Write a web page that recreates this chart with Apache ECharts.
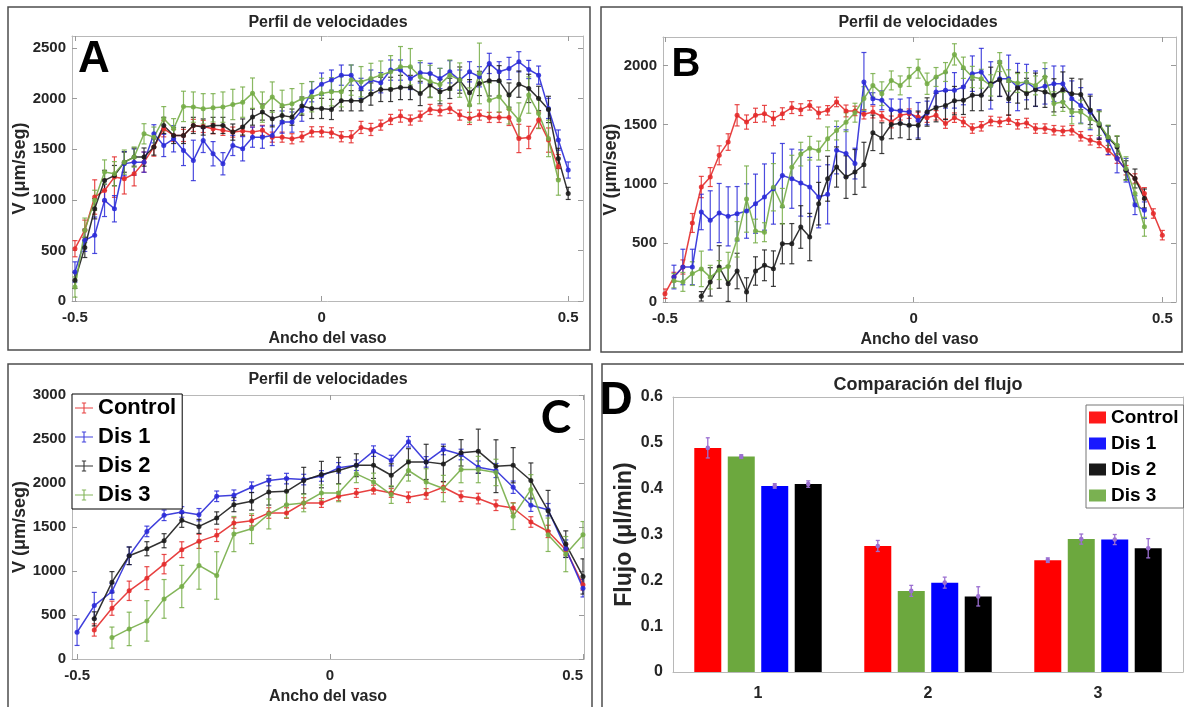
<!DOCTYPE html>
<html>
<head>
<meta charset="utf-8">
<title>Perfil de velocidades</title>
<script src="https://cdn.jsdelivr.net/npm/echarts@6/dist/echarts.min.js"></script>
<style>
  html, body { margin: 0; padding: 0; background: #fff; }
  #main { width: 1184px; height: 707px; }
</style>
</head>
<body>
<div id="main"></div>
<script>
// sample positions across the vessel (normalised width)
const xA = [-0.5, -0.48, -0.46, -0.44, -0.42, -0.4, -0.38, -0.36, -0.34, -0.32,
  -0.3, -0.28, -0.26, -0.24, -0.22, -0.2, -0.18, -0.16, -0.14, -0.12,
  -0.1, -0.08, -0.06, -0.04, -0.02, 0, 0.02, 0.04, 0.06, 0.08,
  0.1, 0.12, 0.14, 0.16, 0.18, 0.2, 0.22, 0.24, 0.26, 0.28,
  0.3, 0.32, 0.34, 0.36, 0.38, 0.4, 0.42, 0.44, 0.46, 0.48, 0.5]
const xB = [-0.5, -0.482, -0.464, -0.445, -0.427, -0.409, -0.391, -0.373, -0.355, -0.336,
  -0.318, -0.3, -0.282, -0.264, -0.245, -0.227, -0.209, -0.191, -0.173, -0.155,
  -0.136, -0.118, -0.1, -0.082, -0.064, -0.045, -0.027, -0.009, 0.009, 0.027,
  0.045, 0.064, 0.082, 0.1, 0.118, 0.136, 0.155, 0.173, 0.191, 0.209,
  0.227, 0.245, 0.264, 0.282, 0.3, 0.318, 0.336, 0.355, 0.373, 0.391,
  0.409, 0.427, 0.445, 0.464, 0.482, 0.5]
const xC = [-0.5, -0.466, -0.431, -0.397, -0.362, -0.328, -0.293, -0.259, -0.224, -0.19,
  -0.155, -0.121, -0.086, -0.052, -0.017, 0.017, 0.052, 0.086, 0.121, 0.155,
  0.19, 0.224, 0.259, 0.293, 0.328, 0.362, 0.397, 0.431, 0.466, 0.5]

// panel A (um/seg)
const aControl = [517, 700, 1028, 1093, 1225, 1208, 1258, 1373, 1522, 1703,
  1637, 1637, 1736, 1726, 1703, 1687, 1670, 1680, 1670, 1687,
  1620, 1620, 1604, 1624, 1673, 1673, 1663, 1624, 1624, 1716,
  1696, 1739, 1795, 1828, 1789, 1828, 1894, 1881, 1904, 1838,
  1805, 1838, 1815, 1815, 1815, 1607, 1617, 1789, 1591, 1327, null]
const aControlErr = [80, 100, 170, 110, 200, 150, 120, 100, 90, 80,
  60, 60, 60, 60, 50, 50, 50, 50, 50, 50,
  50, 50, 50, 50, 50, 50, 50, 50, 60, 60,
  60, 50, 50, 60, 50, 50, 50, 50, 50, 50,
  60, 50, 50, 50, 80, 140, 110, 80, 120, 120, null]
const aDis1 = [287, 600, 650, 995, 912, 1357, 1373, 1373, 1653, 1538,
  1604, 1489, 1390, 1588, 1456, 1357, 1538, 1505, 1620, 1620,
  1637, 1769, 1769, 1887, 2069, 2144, 2184, 2233, 2233, 2102,
  2184, 2158, 2283, 2283, 2200, 2256, 2250, 2200, 2266, 2184,
  2266, 2217, 2349, 2266, 2299, 2365, 2289, 2233, 1904, 1591, 1295]
const aDis1Err = [100, 110, 180, 160, 130, 120, 130, 100, 90, 110,
  130, 150, 200, 120, 120, 110, 100, 120, 100, 110,
  100, 110, 100, 110, 100, 110, 100, 100, 100, 100,
  100, 100, 100, 100, 110, 100, 100, 100, 110, 100,
  100, 100, 100, 100, 110, 100, 90, 90, 100, 100, 80]
const aDis2 = [204, 530, 912, 1192, 1240, 1373, 1423, 1423, 1522, 1736,
  1637, 1637, 1736, 1720, 1736, 1736, 1670, 1720, 1818, 1868,
  1802, 1835, 1818, 1927, 1904, 1904, 1894, 1980, 1980, 1980,
  2046, 2092, 2092, 2111, 2111, 2052, 2135, 2069, 2102, 2184,
  2059, 2151, 2177, 2177, 2036, 2144, 2102, 2003, 1894, 1410, 1064]
const aDis2Err = [80, 100, 100, 100, 100, 100, 90, 90, 80, 80,
  80, 80, 80, 80, 80, 80, 80, 80, 80, 80,
  80, 80, 80, 90, 100, 100, 100, 100, 100, 100,
  110, 120, 120, 120, 120, 120, 120, 120, 100, 130,
  130, 120, 150, 150, 120, 130, 140, 120, 130, 100, 60]
const aDis3 = [138, 700, 995, 1275, 1258, 1373, 1423, 1653, 1620, 1802,
  1703, 1924, 1917, 1900, 1910, 1917, 1943, 1966, 2055, 1917,
  2016, 1934, 1950, 2000, 2020, 2052, 2069, 2069, 2184, 2168,
  2200, 2233, 2266, 2316, 2316, 2217, 2170, 2140, 2233, 2184,
  1937, 2250, 1986, 2019, 1900, 1789, 2036, 1855, 1607, 1196, null]
const aDis3Err = [100, 120, 100, 120, 120, 120, 100, 100, 100, 120,
  100, 150, 150, 150, 140, 150, 150, 150, 150, 150,
  150, 150, 150, 150, 150, 150, 140, 150, 150, 150,
  150, 140, 160, 200, 180, 160, 160, 160, 150, 170,
  170, 300, 170, 150, 150, 170, 180, 150, 180, 150, null]

// panel B (um/seg)
const bControl = [70, 211, 296, 668, 972, 1056, 1240, 1352, 1578, 1521,
  1578, 1592, 1550, 1592, 1643, 1626, 1662, 1598, 1620, 1691,
  1615, 1615, 1587, 1606, 1570, 1522, 1578, 1592, 1564, 1558,
  1578, 1508, 1558, 1522, 1466, 1485, 1530, 1522, 1541, 1502,
  1513, 1466, 1466, 1452, 1446, 1452, 1401, 1367, 1345, 1283,
  1212, 1114, 1044, 917, 748, 565]
const bControlErr = [40, 40, 60, 80, 90, 80, 80, 70, 90, 60,
  60, 70, 60, 50, 50, 50, 40, 50, 40, 40,
  50, 40, 40, 50, 40, 50, 40, 40, 40, 40,
  40, 40, 40, 40, 40, 40, 40, 40, 40, 40,
  40, 40, 40, 40, 40, 40, 40, 40, 40, 40,
  40, 40, 40, 50, 40, 40]
const bDis1 = [null, 211, 296, 296, 761, 690, 752, 724, 746, 769,
  831, 887, 958, 1070, 1042, 1006, 972, 887, 910, 1283,
  1255, 1170, 1859, 1719, 1705, 1626, 1615, 1606, 1536, 1598,
  1775, 1789, 1789, 1817, 1930, 1944, 1831, 1887, 1887, 1817,
  1859, 1803, 1823, 1845, 1845, 1719, 1662, 1606, 1505, 1367,
  1212, 1114, 819, 776, null, null]
const bDis1Err = [null, 100, 150, 150, 150, 250, 250, 250, 230, 230,
  250, 280, 300, 270, 250, 280, 250, 260, 250, 200,
  200, 130, 250, 50, 80, 90, 100, 120, 150, 100,
  120, 150, 150, 150, 150, 200, 200, 150, 200, 200,
  150, 150, 150, 150, 150, 150, 150, 150, 120, 120,
  120, 100, 80, 70, null, null]
const bDis2 = [null, null, null, null, 48, 170, 296, 155, 262, 85,
  262, 310, 282, 493, 493, 634, 549, 831, 1042, 1141,
  1056, 1099, 1160, 1430, 1385, 1500, 1508, 1494, 1494, 1606,
  1643, 1662, 1702, 1705, 1747, 1747, 1845, 1879, 1719, 1811,
  1761, 1795, 1775, 1747, 1795, 1761, 1755, 1620, 1494, 1390,
  1311, 1114, 1044, 875, null, null]
const bDis2Err = [null, null, null, null, 40, 120, 180, 150, 150, 120,
  120, 130, 150, 170, 170, 180, 200, 180, 190, 170,
  180, 190, 190, 150, 130, 120, 120, 120, 120, 120,
  120, 120, 120, 120, 130, 130, 140, 140, 140, 130,
  130, 140, 130, 140, 150, 130, 130, 120, 120, 100,
  90, 80, 80, 80, null, null]
const bDis3 = [null, 180, 170, 240, 280, 210, 270, 300, 530, 870,
  600, 590, 970, 810, 1140, 1250, 1300, 1280, 1380, 1450,
  1520, 1600, 1720, 1831, 1761, 1873, 1831, 1902, 1972, 1845,
  1902, 1944, 2093, 1980, 1902, 1887, 1831, 2028, 1873, 1851,
  1859, 1831, 1902, 1677, 1691, 1606, 1606, 1550, 1508, 1395,
  1325, 1128, 917, 636, null, null]
const bDis3Err = [null, 60, 80, 100, 150, 100, 80, 120, 150, 280,
  100, 80, 200, 150, 100, 100, 100, 80, 100, 80,
  80, 80, 100, 100, 100, 80, 80, 80, 80, 90,
  80, 80, 90, 90, 90, 80, 90, 80, 90, 80,
  80, 80, 120, 100, 80, 100, 100, 80, 100, 100,
  80, 100, 80, 80, null, null]

// panel C (um/seg)
const cControl = [null, 330, 577, 775, 919, 1078, 1242, 1337, 1405, 1545,
  1572, 1659, 1659, 1773, 1773, 1849, 1887, 1925, 1887, 1838,
  1876, 1952, 1849, 1823, 1747, 1716, 1557, 1450, 1242, 843]
const cControlErr = [null, 70, 80, 110, 130, 110, 90, 80, 70, 60,
  60, 60, 60, 60, 50, 50, 50, 50, 50, 60,
  60, 60, 60, 60, 60, 60, 60, 70, 60, 60]
const cDis1 = [304, 607, 767, 1173, 1450, 1633, 1671, 1640, 1849, 1861,
  1952, 2028, 2050, 2039, 2080, 2172, 2202, 2362, 2255, 2468,
  2240, 2381, 2324, 2180, 2142, 1952, 1747, 1697, 1253, 805]
const cDis1Err = [150, 150, 90, 100, 60, 60, 60, 70, 60, 60,
  60, 60, 60, 60, 60, 60, 60, 60, 60, 60,
  60, 60, 60, 70, 80, 70, 70, 70, 100, 100]
const cDis2 = [null, 456, 873, 1173, 1253, 1344, 1576, 1507, 1602, 1754,
  1792, 1899, 1906, 2028, 2096, 2142, 2202, 2202, 2088, 2240,
  2240, 2217, 2343, 2362, 2191, 2202, 2028, 1686, 1306, 938]
const cDis2Err = [null, 80, 120, 100, 80, 80, 80, 80, 70, 80,
  100, 150, 150, 150, 150, 150, 130, 150, 130, 150,
  200, 200, 150, 250, 300, 200, 200, 230, 150, 200]
const cDis3 = [null, null, 243, 342, 433, 683, 824, 1063, 949, 1420,
  1481, 1648, 1754, 1773, 1887, 1887, 2104, 2012, 1868, 2142,
  2012, 1937, 2153, 2153, 2120, 1621, 1925, 1412, 1192, 1412]
const cDis3Err = [null, null, 120, 190, 230, 220, 240, 270, 270, 200,
  170, 170, 150, 100, 90, 100, 100, 100, 100, 120,
  150, 150, 150, 150, 150, 150, 170, 190, 200, 150]

// panel D, flujo (ul/min) per grupo
const dCategories = ['1', '2', '3']
const dControl = [0.489, 0.275, 0.244]
const dControlErr = [0.022, 0.012, 0.005]
const dDis3 = [0.47, 0.177, 0.29]
const dDis3Err = [0.004, 0.012, 0.011]
const dDis1 = [0.406, 0.195, 0.289]
const dDis1Err = [0.005, 0.012, 0.011]
const dDis2 = [0.41, 0.165, 0.27]
const dDis2Err = [0.007, 0.021, 0.021]

const xTicks = [-0.5, 0, 0.5]
const yTicksA = [0, 500, 1000, 1500, 2000, 2500]
const yTicksB = [0, 500, 1000, 1500, 2000]
const yTicksC = [0, 500, 1000, 1500, 2000, 2500, 3000]

const font = 'Arial, "Liberation Sans", Helvetica, sans-serif'
const RED = '#e42b2b'
const BLUE = '#2b2bd8'
const BLACK = '#1c1c1c'
const GREEN = '#76ad47'
const ERR_D = '#9b6fd1'

const myChart = echarts.init(document.getElementById('main'))

function pairs(xs, ys) {
  return xs.map((x, i) => [x, ys[i]]).filter(p => p[1] != null)
}
function errRows(xs, ys, es) {
  return xs.map((x, i) => [x, ys[i] - es[i], ys[i] + es[i]])
    .filter((p, i) => ys[i] != null && es[i] != null)
}
// plain numbers, no thousands separator (MATLAB style)
function plain(v) {
  return String(v)
}

function errRender(color, cap) {
  return function (params, api) {
    const lo = api.coord([api.value(0), api.value(1)])
    const hi = api.coord([api.value(0), api.value(2)])
    const st = { stroke: color, lineWidth: 1.2, opacity: 0.85 }
    return {
      type: 'group',
      children: [
        { type: 'line', shape: { x1: lo[0], y1: lo[1], x2: hi[0], y2: hi[1] }, style: st },
        { type: 'line', shape: { x1: lo[0] - cap, y1: lo[1], x2: lo[0] + cap, y2: lo[1] }, style: st },
        { type: 'line', shape: { x1: hi[0] - cap, y1: hi[1], x2: hi[0] + cap, y2: hi[1] }, style: st }
      ]
    }
  }
}

// one panel = 4 lines + their error bars
function profileSeries(axisIdx, xs, list) {
  const out = []
  list.forEach(s => {
    out.push({
      type: 'custom',
      xAxisIndex: axisIdx,
      yAxisIndex: axisIdx,
      silent: true,
      z: 2,
      clip: true,
      encode: { x: 0, y: [1, 2] },
      renderItem: errRender(s.color, 2.5),
      data: errRows(xs, s.data, s.err)
    })
    out.push({
      type: 'line',
      name: s.name,
      xAxisIndex: axisIdx,
      yAxisIndex: axisIdx,
      silent: true,
      z: 3,
      symbol: 'circle',
      symbolSize: 5,
      lineStyle: { color: s.color, width: 1.5, opacity: 0.9 },
      itemStyle: { color: s.color, opacity: 0.9 },
      emphasis: { disabled: true },
      data: pairs(xs, s.data)
    })
  })
  return out
}

const boxLine = { show: true, onZero: false, lineStyle: { color: '#b8b8b8', width: 1 } }
const tickStyle = { lineStyle: { color: '#9a9a9a' } }
const labelStyle = { color: '#262626', fontWeight: 'bold', fontSize: 15, fontFamily: font, formatter: plain }
const nameStyle = { color: '#262626', fontWeight: 'bold', fontFamily: font }

function profileAxes(grid, xmin, xmax, ymax, yTicks, alignLast) {
  const xs = [
    {
      type: 'value', gridIndex: grid, position: 'bottom', min: xmin, max: xmax,
      name: 'Ancho del vaso', nameLocation: 'middle', nameGap: 30,
      nameTextStyle: Object.assign({ fontSize: 16 }, nameStyle),
      axisLine: boxLine, splitLine: { show: false },
      axisTick: Object.assign({ inside: true, length: 5, customValues: xTicks }, tickStyle),
      axisLabel: Object.assign({ margin: 9, customValues: xTicks }, labelStyle,
        alignLast ? { alignMaxLabel: 'right' } : {})
    },
    {
      type: 'value', gridIndex: grid, position: 'top', min: xmin, max: xmax,
      axisLine: boxLine, splitLine: { show: false }, axisLabel: { show: false },
      axisTick: Object.assign({ inside: true, length: 5, customValues: xTicks }, tickStyle)
    }
  ]
  const ys = [
    {
      type: 'value', gridIndex: grid, position: 'left', min: 0, max: ymax,
      name: 'V (μm/seg)', nameLocation: 'middle', nameGap: 41,
      nameTextStyle: Object.assign({ fontSize: 18 }, nameStyle),
      axisLine: boxLine, splitLine: { show: false },
      axisTick: Object.assign({ inside: true, length: 5, customValues: yTicks }, tickStyle),
      axisLabel: Object.assign({ margin: 6, customValues: yTicks }, labelStyle)
    },
    {
      type: 'value', gridIndex: grid, position: 'right', min: 0, max: ymax,
      axisLine: boxLine, splitLine: { show: false }, axisLabel: { show: false },
      axisTick: Object.assign({ inside: true, length: 5, customValues: yTicks }, tickStyle)
    }
  ]
  return { xs, ys }
}

const axA = profileAxes(0, -0.506, 0.53, 2620, yTicksA, false)
const axB = profileAxes(1, -0.504, 0.5275, 2240, yTicksB, false)
const axC = profileAxes(2, -0.51, 0.502, 3000, yTicksC, true)

const xAxisD = [
  {
    type: 'category', gridIndex: 3, position: 'bottom', data: dCategories,
    axisLine: boxLine,
    axisTick: Object.assign({ inside: true, length: 5, alignWithLabel: true }, tickStyle),
    axisLabel: Object.assign({}, labelStyle, { margin: 14, fontSize: 16 })
  },
  {
    type: 'category', gridIndex: 3, position: 'top', data: dCategories,
    axisLine: boxLine, axisLabel: { show: false },
    axisTick: Object.assign({ inside: true, length: 5, alignWithLabel: true }, tickStyle)
  }
]
const yAxisD = [
  {
    type: 'value', gridIndex: 3, position: 'left', min: 0, max: 0.6, interval: 0.1,
    name: 'Flujo (μl/min)', nameLocation: 'middle', nameGap: 37,
    nameTextStyle: Object.assign({ fontSize: 23 }, nameStyle),
    axisLine: boxLine, splitLine: { show: false },
    axisTick: Object.assign({ inside: true, length: 5 }, tickStyle),
    axisLabel: Object.assign({}, labelStyle, { margin: 10, fontSize: 16, formatter: v => (v === 0 ? '0' : v.toFixed(1)) })
  },
  {
    type: 'value', gridIndex: 3, position: 'right', min: 0, max: 0.6, interval: 0.1,
    axisLine: boxLine, splitLine: { show: false }, axisLabel: { show: false },
    axisTick: Object.assign({ inside: true, length: 5 }, tickStyle)
  }
]

// bar error bars with purple caps + dot, shifted onto each bar of the group
const BAR_W = 27
const BAR_GAP = 0.24
function barErrSeries(idx, vals, errs) {
  const step = BAR_W * (1 + BAR_GAP)
  const offset = -1.5 * step + idx * step
  return {
    type: 'custom',
    xAxisIndex: 6,
    yAxisIndex: 6,
    silent: true,
    z: 4,
    encode: { x: 0, y: [1, 2] },
    renderItem: function (params, api) {
      const c = api.coord([api.value(0), api.value(3)])
      const lo = api.coord([api.value(0), api.value(1)])
      const hi = api.coord([api.value(0), api.value(2)])
      const x = c[0] + offset
      const st = { stroke: ERR_D, lineWidth: 1.3 }
      return {
        type: 'group',
        children: [
          { type: 'line', shape: { x1: x, y1: lo[1], x2: x, y2: hi[1] }, style: st },
          { type: 'line', shape: { x1: x - 2, y1: lo[1], x2: x + 2, y2: lo[1] }, style: st },
          { type: 'line', shape: { x1: x - 2, y1: hi[1], x2: x + 2, y2: hi[1] }, style: st },
          { type: 'circle', shape: { cx: x, cy: c[1], r: 2.3 }, style: { fill: ERR_D } }
        ]
      }
    },
    data: vals.map((v, i) => [i, v - errs[i], v + errs[i], v])
  }
}
function barSeries(name, color, vals) {
  return {
    type: 'bar', name: name, xAxisIndex: 6, yAxisIndex: 6,
    barWidth: BAR_W, barGap: (BAR_GAP * 100) + '%',
    silent: true, z: 3,
    itemStyle: { color: color },
    data: vals
  }
}

const crossIcon = 'path://M0,5.4h20v1.2h-20z M9.4,0h1.2v12h-1.2z M7.6,0h4.8v1h-4.8z M7.6,11h4.8v1h-4.8z'

const option = {
  animation: false,
  textStyle: { fontFamily: font },
  title: [
    { text: 'Perfil de velocidades', left: 328, top: 15, textAlign: 'center', padding: 0,
      textStyle: { fontSize: 16, fontWeight: 'bold', color: '#262626', fontFamily: font } },
    { text: 'Perfil de velocidades', left: 918, top: 15, textAlign: 'center', padding: 0,
      textStyle: { fontSize: 16, fontWeight: 'bold', color: '#262626', fontFamily: font } },
    { text: 'Perfil de velocidades', left: 328, top: 372, textAlign: 'center', padding: 0,
      textStyle: { fontSize: 16, fontWeight: 'bold', color: '#262626', fontFamily: font } },
    { text: 'Comparación del flujo', left: 928, top: 376, textAlign: 'center', padding: 0,
      textStyle: { fontSize: 18, fontWeight: 'bold', color: '#262626', fontFamily: font } }
  ],
  legend: [
    {
      left: 72, top: 394, orient: 'vertical', selectedMode: false,
      padding: [3, 6, 3, 3], itemGap: 7, itemWidth: 18, itemHeight: 12, itemTextGap: 4,
      borderColor: '#000', borderWidth: 1, backgroundColor: '#fff',
      itemStyle: { borderWidth: 0 },
      textStyle: { fontSize: 22, fontWeight: 'bold', color: '#000', fontFamily: font },
      data: [
        { name: 'Control', icon: crossIcon },
        { name: 'Dis 1', icon: crossIcon },
        { name: 'Dis 2', icon: crossIcon },
        { name: 'Dis 3', icon: crossIcon }
      ]
    },
    {
      left: 1086, top: 405, orient: 'vertical', selectedMode: false,
      padding: [3, 5, 3, 3], itemGap: 7, itemWidth: 17, itemHeight: 12, itemTextGap: 2,
      borderColor: '#777', borderWidth: 1, backgroundColor: '#fff',
      textStyle: { fontSize: 19, fontWeight: 'bold', color: '#000', fontFamily: font },
      data: [
        { name: 'Control', icon: 'rect', itemStyle: { color: '#ff0000', borderWidth: 0 } },
        { name: 'Dis 1', icon: 'rect', itemStyle: { color: '#0000ff', borderWidth: 0 } },
        { name: 'Dis 2', icon: 'rect', itemStyle: { color: '#000000', borderWidth: 0 } },
        { name: 'Dis 3', icon: 'rect', itemStyle: { color: '#6ca83e', borderWidth: 0 } }
      ]
    }
  ],
  grid: [
    { left: 72, top: 36, width: 511, height: 265 },
    { left: 663, top: 37, width: 513, height: 265 },
    { left: 72, top: 395, width: 512, height: 264 },
    { left: 673, top: 397, width: 510, height: 275 }
  ],
  xAxis: [].concat(axA.xs, axB.xs, axC.xs, xAxisD),
  yAxis: [].concat(axA.ys, axB.ys, axC.ys, yAxisD),
  graphic: [
    { type: 'rect', shape: { x: 8, y: 7, width: 582, height: 343 }, style: { fill: null, stroke: '#4d4d4d', lineWidth: 1.5 }, silent: true },
    { type: 'rect', shape: { x: 601, y: 7, width: 581, height: 345 }, style: { fill: null, stroke: '#4d4d4d', lineWidth: 1.5 }, silent: true },
    { type: 'rect', shape: { x: 8, y: 364, width: 584, height: 360 }, style: { fill: null, stroke: '#4d4d4d', lineWidth: 1.5 }, silent: true },
    { type: 'rect', shape: { x: 602, y: 364, width: 600, height: 360 }, style: { fill: null, stroke: '#4d4d4d', lineWidth: 1.5 }, silent: true },
    { type: 'text', x: 94, y: 60, z: 10, style: { text: 'A', font: 'bold 44px ' + font, fill: '#000', align: 'center', verticalAlign: 'middle', textAlign: 'center', textVerticalAlign: 'middle' } },
    { type: 'text', x: 686, y: 65, z: 10, style: { text: 'B', font: 'bold 40px ' + font, fill: '#000', align: 'center', verticalAlign: 'middle', textAlign: 'center', textVerticalAlign: 'middle' } },
    { type: 'text', x: 556, y: 418, z: 10, style: { text: 'C', font: 'bold 46px Lato, ' + font, fill: '#000', align: 'center', verticalAlign: 'middle', textAlign: 'center', textVerticalAlign: 'middle' } },
    { type: 'text', x: 616, y: 401, z: 10, style: { text: 'D', font: 'bold 46px ' + font, fill: '#000', align: 'center', verticalAlign: 'middle', textAlign: 'center', textVerticalAlign: 'middle' } }
  ],
  series: [].concat(
    profileSeries(0, xA, [
      { name: 'Control', color: RED, data: aControl, err: aControlErr },
      { name: 'Dis 1', color: BLUE, data: aDis1, err: aDis1Err },
      { name: 'Dis 2', color: BLACK, data: aDis2, err: aDis2Err },
      { name: 'Dis 3', color: GREEN, data: aDis3, err: aDis3Err }
    ]),
    profileSeries(2, xB, [
      { name: 'Control', color: RED, data: bControl, err: bControlErr },
      { name: 'Dis 1', color: BLUE, data: bDis1, err: bDis1Err },
      { name: 'Dis 2', color: BLACK, data: bDis2, err: bDis2Err },
      { name: 'Dis 3', color: GREEN, data: bDis3, err: bDis3Err }
    ]),
    profileSeries(4, xC, [
      { name: 'Control', color: RED, data: cControl, err: cControlErr },
      { name: 'Dis 1', color: BLUE, data: cDis1, err: cDis1Err },
      { name: 'Dis 2', color: BLACK, data: cDis2, err: cDis2Err },
      { name: 'Dis 3', color: GREEN, data: cDis3, err: cDis3Err }
    ]),
    [
      // bar order in the figure: Control, Dis 3, Dis 1, Dis 2
      barSeries('Control', '#ff0000', dControl),
      barSeries('Dis 3', '#6ca83e', dDis3),
      barSeries('Dis 1', '#0000ff', dDis1),
      barSeries('Dis 2', '#000000', dDis2),
      barErrSeries(0, dControl, dControlErr),
      barErrSeries(1, dDis3, dDis3Err),
      barErrSeries(2, dDis1, dDis1Err),
      barErrSeries(3, dDis2, dDis2Err)
    ]
  )
}

myChart.setOption(option)
</script>
</body>
</html>
